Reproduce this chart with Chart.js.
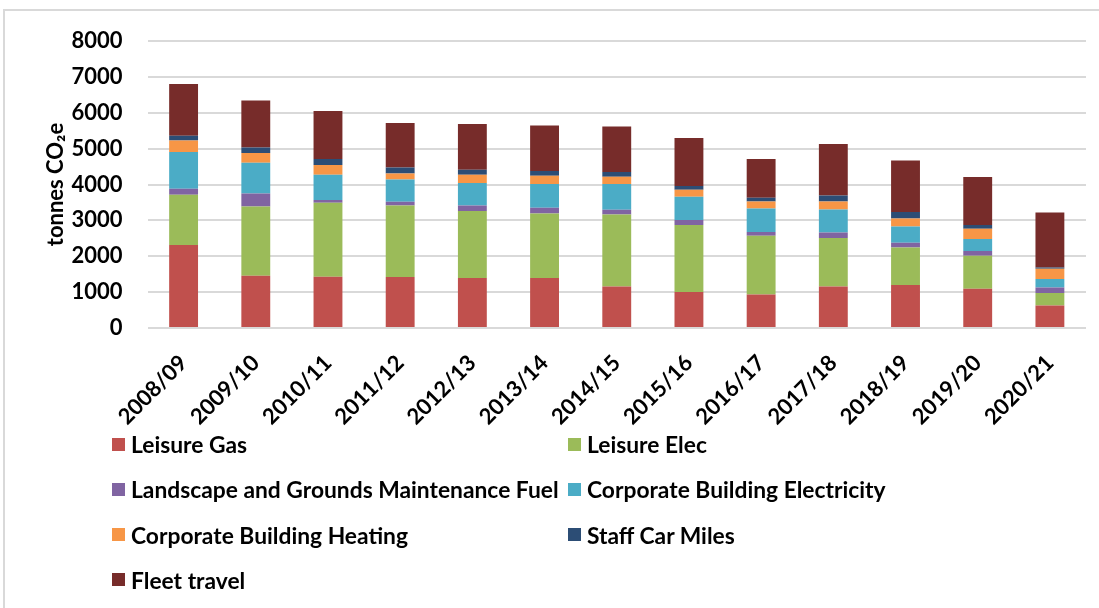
<!DOCTYPE html>
<html>
<head>
<meta charset="utf-8">
<style>
  body { margin: 0; background: #fff; width: 1099px; height: 608px; overflow: hidden; position: relative; }
  .frame { position: absolute; left: 3px; top: 9px; width: 1200px; height: 700px;
           border-left: 2px solid #d9d9d9; border-top: 2px solid #d9d9d9; }
  #wrap { position: absolute; left: 0; top: 0; }
  #legend { position: absolute; left: 112px; top: 431px; display: grid;
            grid-template-columns: 456px 460px; grid-auto-rows: 45.3px;
            font-family: Lato, sans-serif; font-weight: bold; font-size: 22.8px; color: #000; }
  #legend .item { display: flex; align-items: center; height: 26px; white-space: nowrap; }
  #legend .box { width: 13px; height: 13px; margin-right: 6px; flex: none; }
</style>
</head>
<body>
<div class="frame"></div>
<div id="wrap"><canvas id="co2Chart" width="1099" height="440"></canvas></div>
<div id="legend"></div>

<script src="https://cdn.jsdelivr.net/npm/chart.js@4.4.0/dist/chart.umd.min.js"></script>
<script>
    // years
    var categories = ['2008/09', '2009/10', '2010/11', '2011/12', '2012/13', '2013/14', '2014/15',
                      '2015/16', '2016/17', '2017/18', '2018/19', '2019/20', '2020/21'];

    // tonnes CO2e per source
    var leisureGas  = [2312, 1457, 1429, 1421, 1393, 1393, 1159, 1003, 936, 1159, 1198, 1095, 630];
    var leisureElec = [1402, 1931, 2062, 1995, 1867, 1800, 2006, 1867, 1635, 1348, 1048, 919, 345];
    var landscape   = [167, 362, 75, 103, 156, 159, 131, 139, 104, 156, 130, 131, 156];
    var corpElec    = [1022, 855, 705, 621, 624, 660, 716, 649, 657, 641, 455, 335, 234];
    var corpHeating = [324, 270, 270, 167, 231, 231, 203, 195, 195, 223, 223, 287, 287];
    var staffCar    = [130, 157, 167, 167, 139, 131, 131, 103, 103, 167, 178, 103, 36];
    var fleet       = [1441, 1309, 1338, 1237, 1273, 1271, 1271, 1337, 1078, 1432, 1438, 1337, 1533];

    var yTicks = [0, 1000, 2000, 3000, 4000, 5000, 6000, 7000, 8000];

    var tickFont = { family: 'Lato', weight: 'bold', size: 22 };

    function ds(label, data, color) {
        return {
            label: label,
            data: data,
            backgroundColor: color,
            borderWidth: 0,
            barPercentage: 1,
            categoryPercentage: 0.4
        };
    }

    var ctx = document.getElementById('co2Chart').getContext('2d');
    var chart = new Chart(ctx, {
        type: 'bar',
        data: {
            labels: categories,
            datasets: [
                ds('Leisure Gas', leisureGas, '#C0504D'),
                ds('Leisure Elec', leisureElec, '#9BBB59'),
                ds('Landscape and Grounds Maintenance Fuel', landscape, '#8064A2'),
                ds('Corporate Building Electricity', corpElec, '#4BACC6'),
                ds('Corporate Building Heating', corpHeating, '#F79646'),
                ds('Staff Car Miles', staffCar, '#2C4D75'),
                ds('Fleet travel', fleet, '#772C2A')
            ]
        },
        options: {
            responsive: false,
            animation: false,
            devicePixelRatio: 1,
            layout: { padding: { top: 41, right: 13, left: 0, bottom: 0 } },
            plugins: {
                legend: { display: false },
                tooltip: { enabled: false }
            },
            scales: {
                x: {
                    stacked: true,
                    grid: { display: false, drawTicks: false },
                    border: { display: false },
                    ticks: {
                        font: tickFont,
                        color: '#000',
                        minRotation: 45,
                        maxRotation: 45,
                        padding: 22,
                        autoSkip: false
                    },
                    afterFit: function(scale) { scale.height = 440 - 328; }
                },
                y: {
                    stacked: true,
                    min: 0,
                    max: 8000,
                    afterBuildTicks: function(scale) {
                        scale.ticks = yTicks.map(function(v) { return { value: v }; });
                    },
                    grid: { color: '#d9d9d9', lineWidth: 2, drawTicks: false },
                    border: { display: false },
                    ticks: {
                        font: tickFont,
                        color: '#000',
                        padding: 25,
                        callback: function(v) { return String(v); }
                    },
                    title: {
                        display: true,
                        text: 'tonnes CO\u2082e',
                        font: tickFont,
                        color: '#000',
                        padding: { top: 43, bottom: 0 }
                    },
                    afterFit: function(scale) { scale.width = 147.5; }
                }
            }
        }
    });

    // legend in two columns like the original
    var legend = document.getElementById('legend');
    chart.data.datasets.forEach(function(d) {
        var item = document.createElement('div');
        item.className = 'item';
        var box = document.createElement('span');
        box.className = 'box';
        box.style.background = d.backgroundColor;
        var txt = document.createElement('span');
        txt.textContent = d.label;
        item.appendChild(box);
        item.appendChild(txt);
        legend.appendChild(item);
    });
</script>
</body>
</html>
